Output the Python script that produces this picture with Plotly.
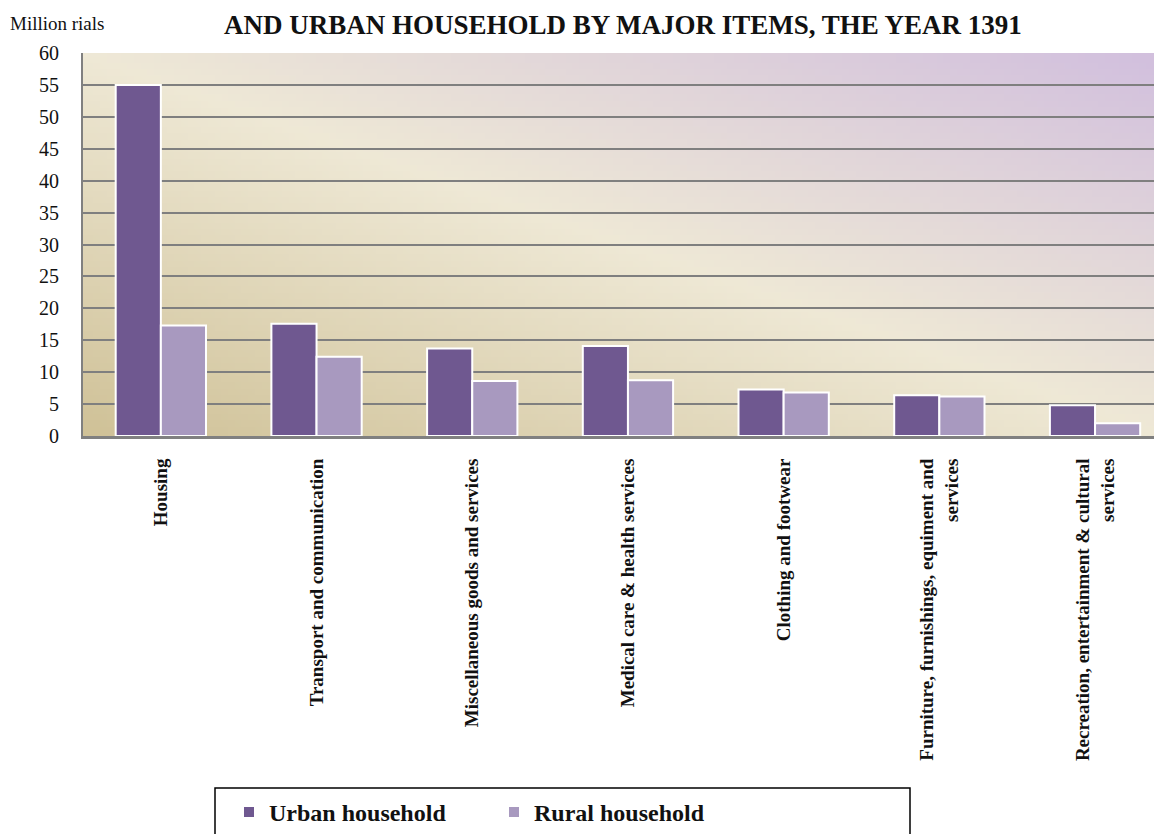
import base64, struct, zlib
import plotly.graph_objects as go

categories = [
    "Housing",
    "Transport and communication",
    "Miscellaneous goods and services",
    "Medical care & health services",
    "Clothing and footwear",
    "Furniture, furnishings, equiment and<br>services",
    "Recreation, entertainment & cultural<br>services",
]
urban = [55.0, 17.6, 13.7, 14.1, 7.3, 6.4, 4.8]
rural = [17.3, 12.4, 8.6, 8.75, 6.8, 6.2, 2.0]
y_ticks = list(range(0, 61, 5))

# page has an 8px body margin; figure sized to fit the window exactly
W, H = 1154, 826
L, R, T, B = 75, 0, 45, 398
PW, PH = W - L - R, H - T - B


def gradient_png(w, h):
    stops = [(0.0, (208, 194, 152)), (0.5, (239, 233, 214)), (1.0, (210, 192, 222))]

    def col(t):
        for i in range(len(stops) - 1):
            t0, c0 = stops[i]
            t1, c1 = stops[i + 1]
            if t <= t1:
                f = (t - t0) / (t1 - t0)
                return tuple(int(c0[k] + (c1[k] - c0[k]) * f) for k in range(3))
        return stops[-1][1]

    raw = bytearray()
    for j in range(h):
        raw.append(0)
        v = 1 - j / (h - 1)
        for i in range(w):
            u = i / (w - 1)
            raw.extend(col((u + v) / 2))

    def chunk(tag, data):
        c = struct.pack(">I", len(data)) + tag + data
        return c + struct.pack(">I", zlib.crc32(tag + data) & 0xFFFFFFFF)

    png = b"\x89PNG\r\n\x1a\n"
    png += chunk(b"IHDR", struct.pack(">IIBBBBB", w, h, 8, 2, 0, 0, 0))
    png += chunk(b"IDAT", zlib.compress(bytes(raw), 9))
    png += chunk(b"IEND", b"")
    return "data:image/png;base64," + base64.b64encode(png).decode()


fig = go.Figure()
fig.add_trace(go.Bar(x=categories, y=urban, name="<b>Urban household</b>",
                     marker=dict(color="#6f5890", line=dict(color="white", width=2))))
fig.add_trace(go.Bar(x=categories, y=rural, name="<b>Rural household</b>",
                     marker=dict(color="#a899bf", line=dict(color="white", width=2))))

fig.add_layout_image(dict(source=gradient_png(160, 60), xref="paper", yref="paper",
                          x=0, y=1, sizex=1, sizey=1, sizing="stretch",
                          xanchor="left", yanchor="top", layer="below"))

px2x = lambda p: (p - L) / PW
px2y = lambda p: (H - B - p) / PH

fig.add_shape(type="rect", xref="paper", yref="paper",
              x0=px2x(207), x1=px2x(902), y0=px2y(780), y1=px2y(840),
              line=dict(color="black", width=1.5), fillcolor="rgba(0,0,0,0)")

fig.add_annotation(text="Million rials", xref="paper", yref="paper",
                   x=px2x(0), y=px2y(15), xanchor="left", yanchor="middle",
                   showarrow=False, font=dict(family="Liberation Serif", size=19, color="#111"))
fig.add_annotation(text="<b>AND URBAN HOUSEHOLD BY MAJOR ITEMS, THE YEAR 1391</b>",
                   xref="paper", yref="paper", x=px2x(615), y=px2y(0),
                   xanchor="center", yanchor="top", showarrow=False,
                   font=dict(family="Liberation Serif", size=27, color="#111"))

fig.update_layout(
    width=W, height=H,
    margin=dict(l=L, r=R, t=T, b=B, autoexpand=False),
    paper_bgcolor="white", plot_bgcolor="rgba(0,0,0,0)",
    barmode="group", bargap=0.42, bargroupgap=0.0,
    showlegend=True,
    legend=dict(orientation="h", x=px2x(221), y=px2y(782), xanchor="left", yanchor="top",
                font=dict(family="Liberation Serif", size=24, color="#111"),
                entrywidth=220, bgcolor="rgba(0,0,0,0)", borderwidth=0, itemclick=False),
    font=dict(family="Liberation Serif", color="#111"),
)
fig.update_xaxes(range=[-0.5, 6.43], tickangle=-90, showgrid=False,
                 showline=True, linecolor="#808080", linewidth=3,
                 ticks="", ticklabelstandoff=12,
                 tickfont=dict(family="Liberation Serif", size=19, color="#111"),
                 tickprefix="<b>", ticksuffix="</b>")
fig.update_yaxes(range=[0, 60], tickvals=y_ticks, showgrid=True, gridcolor="#7f7f7f",
                 gridwidth=1.5, showline=True, linecolor="#808080", linewidth=2,
                 ticks="", ticklabelstandoff=18, zeroline=False,
                 tickfont=dict(family="Liberation Serif", size=20, color="#111"))

fig.write_html("out.html")
